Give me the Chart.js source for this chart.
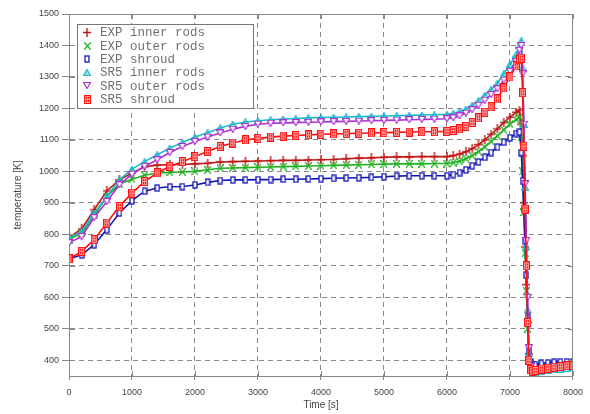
<!DOCTYPE html>
<html>
<head>
<meta charset="utf-8">
<script src="https://cdn.jsdelivr.net/npm/chart.js@4"></script>
<style>
  html, body { margin: 0; padding: 0; background: #fff; }
  #wrap { width: 590px; height: 414px; position: relative; }
</style>
</head>
<body>
<div id="wrap"><canvas id="chart" width="590" height="414"></canvas></div>
<script>
// time axis (s)
const TIME = [
  0, 200, 400, 600, 800, 1000, 1200, 1400, 1600, 1800, 2000, 2200, 2400, 2600, 2800, 3000,
  3200, 3400, 3600, 3800, 4000, 4200, 4400, 4600, 4800, 5000, 5200, 5400, 5600, 5800, 6000,
  6100, 6200, 6300, 6400, 6500, 6600, 6700, 6800, 6900, 7000, 7100, 7150, 7180, 7200, 7220,
  7240, 7260, 7280, 7300, 7330, 7360, 7400, 7500, 7600, 7700, 7800, 7900, 8000
];

const EXP_INNER = [
  790, 817, 878, 938, 973, 995, 1015, 1020, 1021, 1022, 1024, 1026, 1030, 1031, 1032, 1033,
  1034, 1035, 1035, 1036, 1037, 1038, 1040, 1042, 1043, 1045, 1046, 1046, 1047, 1047, 1047,
  1050, 1055, 1062, 1072, 1085, 1100, 1118, 1135, 1155, 1172, 1188, 1195, 1150, 1050, 900,
  760, 640, 520, 420, 385, 380, 382, 384, 385, 386, 387, 388, 388
];
const EXP_OUTER = [
  783, 805, 860, 920, 960, 975, 988, 995, 997, 998, 1000, 1005, 1010, 1011, 1012, 1013,
  1014, 1015, 1016, 1017, 1018, 1019, 1020, 1021, 1022, 1023, 1024, 1024, 1024, 1025, 1025,
  1028, 1032, 1040, 1050, 1063, 1078, 1095, 1113, 1132, 1150, 1165, 1172, 1110, 1000, 870,
  740, 620, 500, 410, 380, 378, 380, 382, 383, 384, 385, 385, 386
];
const EXP_SHROUD = [
  722, 735, 767, 815, 868, 907, 937, 947, 951, 952, 957, 965, 971, 973, 973, 974,
  974, 975, 975, 976, 977, 978, 979, 980, 981, 983, 985, 986, 986, 986, 986,
  990, 996, 1005, 1018, 1030, 1045, 1060, 1077, 1093, 1107, 1120, 1125, 1060, 970, 880,
  780, 670, 540, 430, 395, 385, 386, 390, 392, 394, 395, 395, 396
];
const SR5_INNER = [
  789, 809, 867, 920, 973, 1007, 1031, 1053, 1074, 1092, 1109, 1123, 1138, 1150, 1157, 1161,
  1164, 1166, 1168, 1170, 1171, 1172, 1173, 1174, 1175, 1176, 1177, 1178, 1179, 1180, 1181,
  1184, 1190, 1198, 1210, 1225, 1242, 1260, 1280, 1310, 1340, 1372, 1400, 1415, 1330, 1150,
  950, 760, 560, 420, 372, 362, 362, 365, 368, 370, 372, 374, 376
];
const SR5_OUTER = [
  773, 793, 853, 904, 957, 991, 1016, 1037, 1060, 1079, 1095, 1109, 1122, 1134, 1143, 1150,
  1153, 1154, 1155, 1156, 1157, 1158, 1159, 1160, 1161, 1162, 1163, 1164, 1165, 1166, 1167,
  1170, 1176, 1185, 1196, 1210, 1226, 1244, 1262, 1290, 1318, 1350, 1385, 1400, 1310, 1150,
  960, 780, 600, 440, 380, 370, 370, 373, 375, 377, 378, 380, 381
];
const SR5_SHROUD = [
  722, 746, 783, 836, 889, 931, 968, 995, 1016, 1031, 1047, 1063, 1079, 1090, 1100, 1105,
  1109, 1112, 1114, 1116, 1118, 1119, 1120, 1121, 1122, 1123, 1124, 1125, 1126, 1126, 1127,
  1130, 1135, 1143, 1155, 1170, 1188, 1205, 1230, 1265, 1300, 1335, 1355, 1360, 1250, 1080,
  880, 700, 520, 400, 370, 365, 368, 372, 375, 378, 380, 382, 383
];

const LABELS = [
  "EXP inner rods", "EXP outer rods", "EXP shroud",
  "SR5 inner rods", "SR5 outer rods", "SR5 shroud"
];
const COLORS = ["#c01818", "#20b020", "#1515b5", "#20b8c8", "#b030d8", "#ff1010"];

// little marker images
function mk(w, h, fn) {
  const c = document.createElement("canvas");
  c.width = w; c.height = h;
  fn(c.getContext("2d"), w, h);
  return c;
}

const MARKERS = [
  mk(8, 9, (g, w, h) => {
    g.strokeStyle = COLORS[0]; g.lineWidth = 1.4;
    g.beginPath(); g.moveTo(w / 2, 0); g.lineTo(w / 2, h);
    g.moveTo(0, h / 2); g.lineTo(w, h / 2); g.stroke();
  }),
  mk(7, 8, (g, w, h) => {
    g.strokeStyle = COLORS[1]; g.lineWidth = 1.3;
    g.beginPath(); g.moveTo(0, 0); g.lineTo(w, h);
    g.moveTo(w, 0); g.lineTo(0, h); g.stroke();
  }),
  mk(6, 8, (g, w, h) => {
    g.fillStyle = "#fff"; g.fillRect(1, 1, w - 2, h - 2);
    g.strokeStyle = COLORS[2]; g.lineWidth = 1.3;
    g.strokeRect(1, 1, w - 2, h - 2);
  }),
  mk(8, 7, (g, w, h) => {
    g.beginPath(); g.moveTo(w / 2, 0.5); g.lineTo(w - 0.5, h - 0.5); g.lineTo(0.5, h - 0.5);
    g.closePath();
    g.fillStyle = "rgba(32,184,200,0.45)"; g.fill();
    g.strokeStyle = COLORS[3]; g.lineWidth = 1.2; g.stroke();
  }),
  mk(8, 7, (g, w, h) => {
    g.beginPath(); g.moveTo(0.5, 0.5); g.lineTo(w - 0.5, 0.5); g.lineTo(w / 2, h - 0.5);
    g.closePath();
    g.fillStyle = "#fff"; g.fill();
    g.strokeStyle = COLORS[4]; g.lineWidth = 1.2; g.stroke();
  }),
  mk(7, 9, (g, w, h) => {
    g.fillStyle = COLORS[5]; g.fillRect(0, 0, w, h);
    g.strokeStyle = "#ff9a9a"; g.lineWidth = 1;
    g.beginPath(); g.moveTo(w / 2, 1.5); g.lineTo(w / 2, h - 1.5);
    g.moveTo(1.5, h / 2); g.lineTo(w - 1.5, h / 2); g.stroke();
    g.strokeRect(1.5, 1.5, w - 3, h - 3);
  })
];

function toPoints(vals) {
  return vals.map((v, i) => ({ x: TIME[i], y: v }));
}

const SERIES = [EXP_INNER, EXP_OUTER, EXP_SHROUD, SR5_INNER, SR5_OUTER, SR5_SHROUD];

// frame, inner ticks and legend box
const decor = {
  id: "decor",
  afterDraw(c) {
    const ctx = c.ctx;
    const a = c.chartArea;
    const xs = c.scales.x, ys = c.scales.y;
    ctx.save();
    ctx.strokeStyle = "#888";
    ctx.lineWidth = 1;
    ctx.beginPath();
    ctx.moveTo(a.left, a.top + 0.5); ctx.lineTo(a.right, a.top + 0.5);
    ctx.moveTo(a.right - 0.5, a.top); ctx.lineTo(a.right - 0.5, a.bottom);
    xs.ticks.forEach(t => {
      const px = Math.round(xs.getPixelForValue(t.value)) + 0.5;
      ctx.moveTo(px, a.bottom); ctx.lineTo(px, a.bottom - 5);
      ctx.moveTo(px, a.top); ctx.lineTo(px, a.top + 5);
    });
    ys.ticks.forEach(t => {
      const py = Math.round(ys.getPixelForValue(t.value)) + 0.5;
      ctx.moveTo(a.left, py); ctx.lineTo(a.left + 6, py);
      ctx.moveTo(a.right, py); ctx.lineTo(a.right - 5, py);
    });
    ctx.stroke();

    // legend
    const lx = 77.5, ly = 24.5, lw = 176, lh = 84;
    ctx.fillStyle = "#fff";
    ctx.fillRect(lx, ly, lw, lh);
    ctx.strokeStyle = "#777";
    ctx.strokeRect(lx, ly, lw, lh);
    ctx.font = "12.5px 'Liberation Mono', monospace";
    ctx.fillStyle = "#707070";
    ctx.textBaseline = "middle";
    LABELS.forEach((lab, i) => {
      const y = 32.5 + i * 13.3;
      const m = MARKERS[i];
      ctx.drawImage(m, Math.round(87 - m.width / 2), Math.round(y - m.height / 2));
      ctx.fillText(lab, 100, y + 0.5);
    });
    ctx.restore();
  }
};

chart = new Chart(document.getElementById("chart"), {
  type: "scatter",
  data: {
    datasets: SERIES.map((vals, i) => ({
      label: LABELS[i],
      data: toPoints(vals),
      showLine: true,
      borderColor: COLORS[i],
      backgroundColor: COLORS[i],
      borderWidth: 1.6,
      pointStyle: MARKERS[i],
      pointRadius: 4,
      order: 5 - i
    }))
  },
  options: {
    responsive: false,
    animation: false,
    layout: { padding: { top: 14, right: 12, left: 0, bottom: 0 } },
    plugins: {
      legend: { display: false },
      tooltip: { enabled: false }
    },
    scales: {
      x: {
        type: "linear",
        min: 0,
        max: 8000,
        ticks: {
          stepSize: 1000,
          color: "#444",
          font: { family: "'Liberation Sans', Arial", size: 9 },
          padding: 7,
          maxRotation: 0,
          callback: v => String(v)
        },
        grid: {
          color: "#8a8a8a",
          tickColor: "#888",
          tickLength: 4,
          tickBorderDash: []
        },
        border: { color: "#888", dash: [5, 4] },
        title: {
          display: true,
          text: "Time [s]",
          color: "#444",
          font: { family: "'Liberation Sans', Arial", size: 10 },
          padding: { bottom: 3 }
        },
        afterFit: s => { s.height = 38; }
      },
      y: {
        min: 350,
        max: 1500,
        ticks: {
          stepSize: 100,
          includeBounds: false,
          color: "#444",
          font: { family: "'Liberation Sans', Arial", size: 9 },
          padding: 3,
          callback: v => String(v)
        },
        grid: {
          color: "#8a8a8a",
          tickColor: "#888",
          tickLength: 7,
          tickBorderDash: []
        },
        border: { color: "#888", dash: [5, 4] },
        title: {
          display: true,
          text: "temperature [K]",
          color: "#444",
          font: { family: "'Liberation Sans', Arial", size: 10 },
          padding: { top: 12 }
        },
        afterFit: s => { s.width = 69; }
      }
    }
  },
  plugins: [decor]
});
</script>
</body>
</html>
